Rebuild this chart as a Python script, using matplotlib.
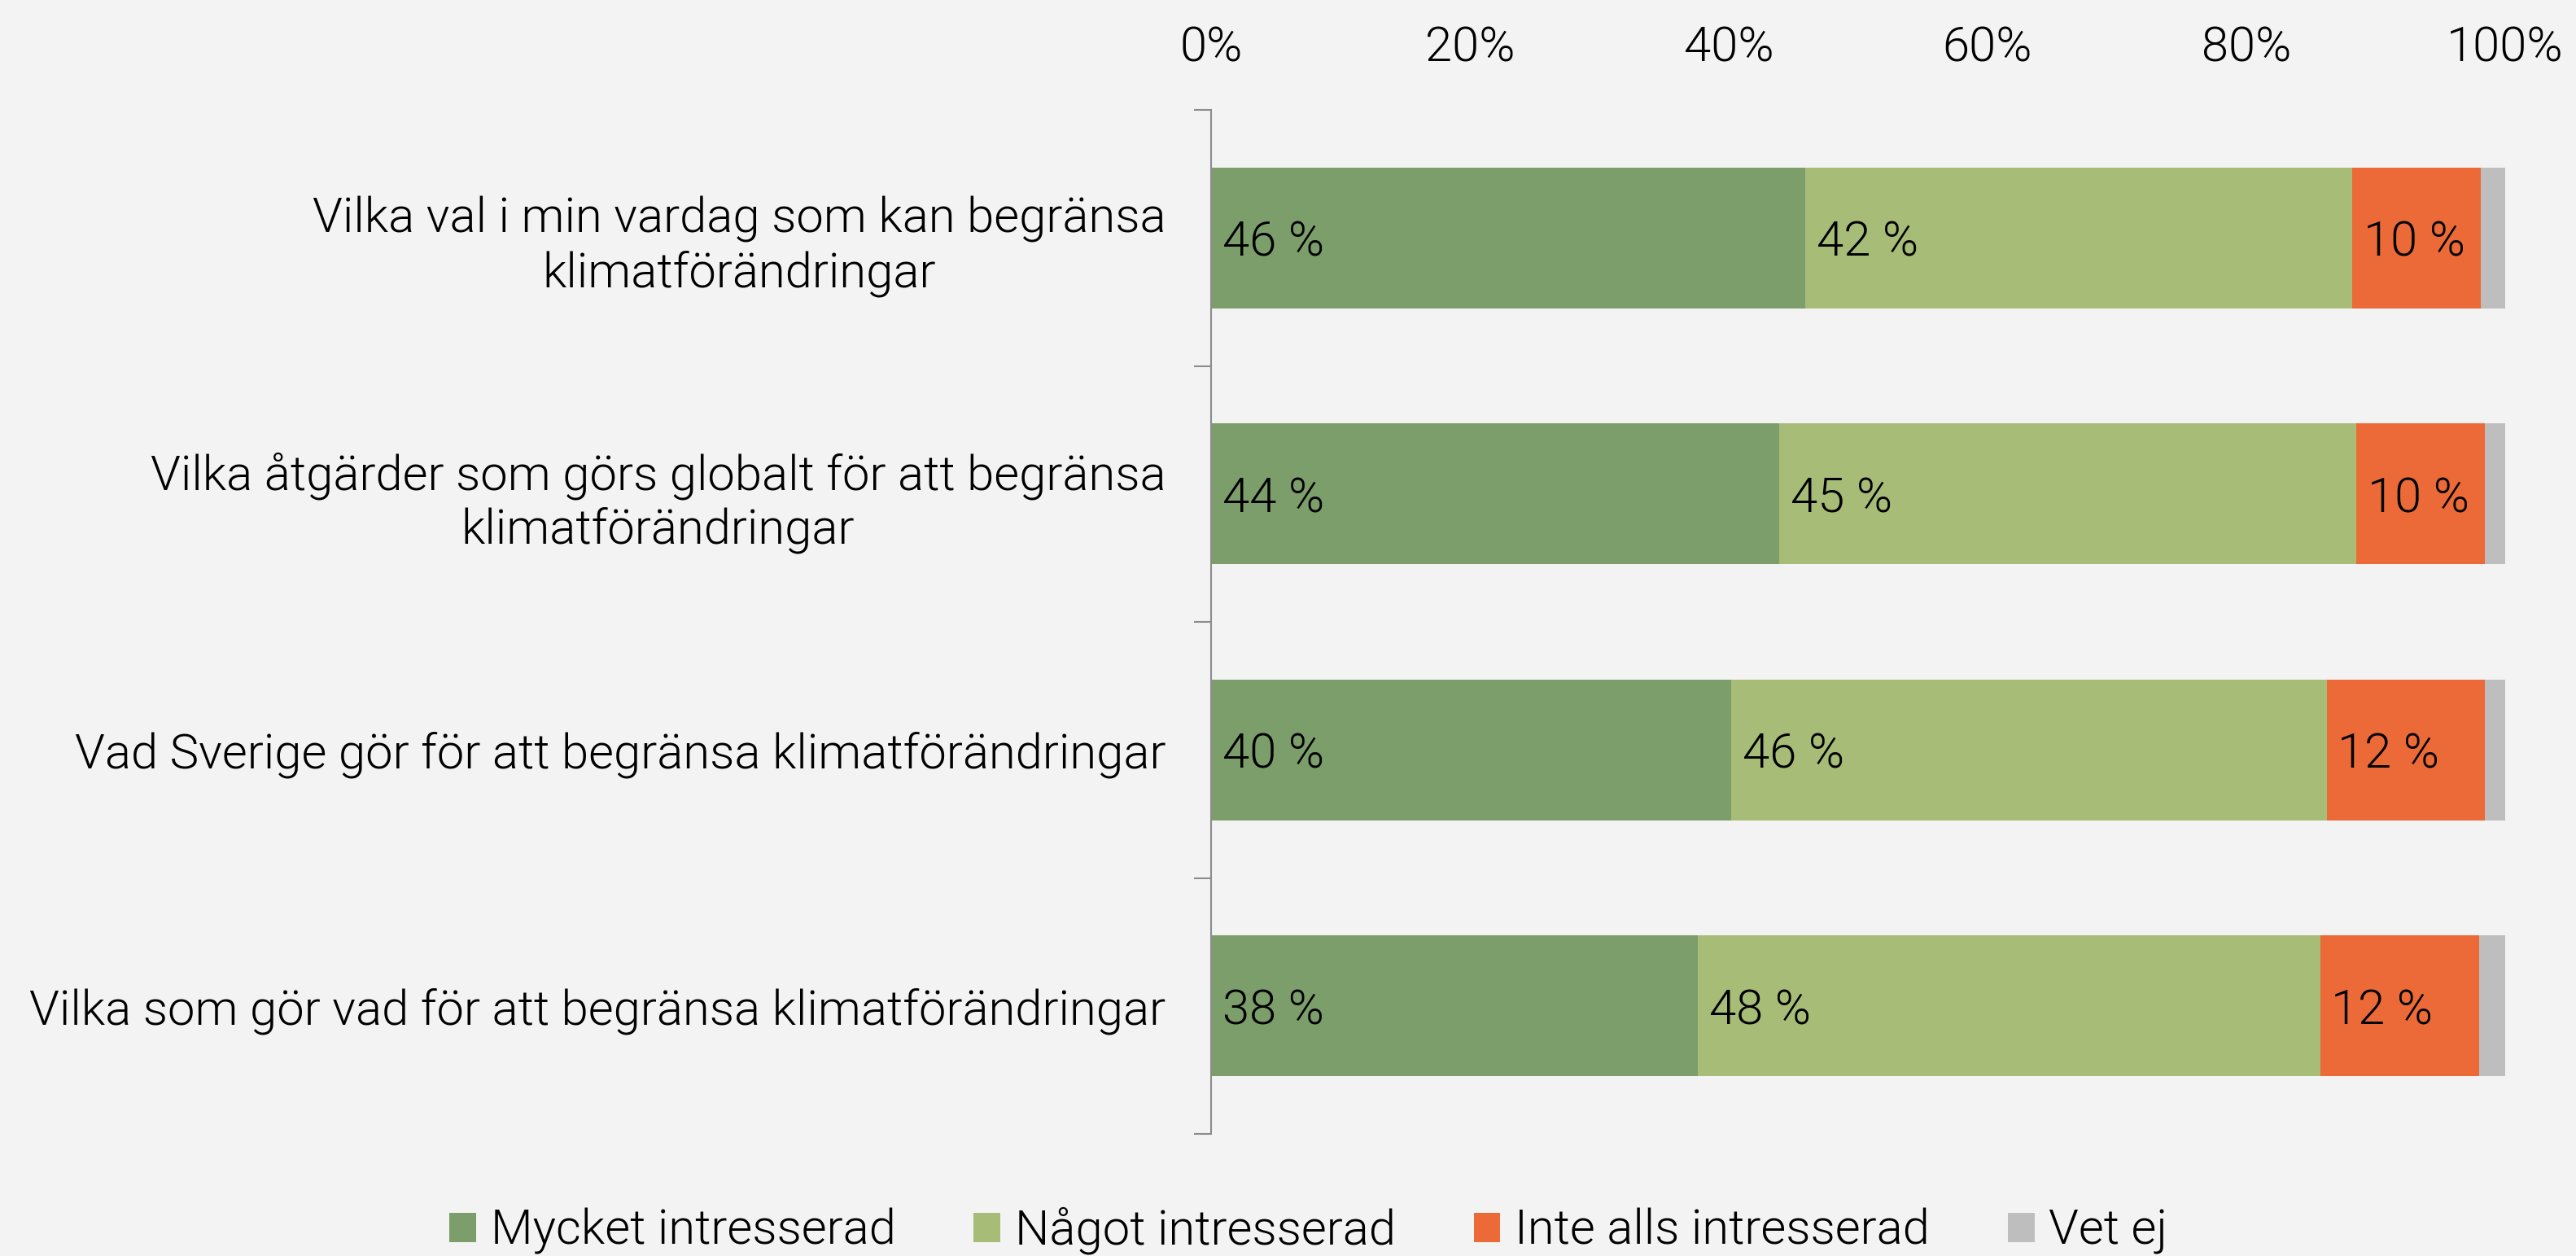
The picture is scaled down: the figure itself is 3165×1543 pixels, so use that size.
import matplotlib
matplotlib.use("Agg")
import matplotlib.pyplot as plt
from matplotlib.patches import Patch
import numpy as np

# survey categories (top to bottom)
categories = [
    "Vilka val i min vardag som kan begränsa\nklimatförändringar",
    "Vilka åtgärder som görs globalt för att begränsa\nklimatförändringar",
    "Vad Sverige gör för att begränsa klimatförändringar",
    "Vilka som gör vad för att begränsa klimatförändringar",
]
series_names = ["Mycket intresserad", "Något intresserad", "Inte alls intresserad", "Vet ej"]
mycket = [45.9, 43.9, 40.2, 37.6]
nagot = [42.3, 44.6, 46.0, 48.1]
inte = [9.9, 9.9, 12.2, 12.3]
vet_ej = [1.9, 1.6, 1.6, 2.0]
show_label = [True, True, True, False]

colors = ["#7c9e6a", "#a6bc77", "#ec6a37", "#bebebe"]
bg = "#f3f3f3"

plt.rcParams['font.family'] = ['Roboto', 'DejaVu Sans']
plt.rcParams['font.weight'] = 300
FS = 43

fig = plt.figure(figsize=(31.65, 15.43), dpi=100, facecolor=bg)
ax = fig.add_axes([0.4701, 0.0972, 0.5024, 0.8153])
ax.set_facecolor(bg)

y = np.arange(len(categories))
left = np.zeros(len(categories))
for name, vals, col, lab in zip(series_names, [mycket, nagot, inte, vet_ej], colors, show_label):
    vals = np.array(vals)
    ax.barh(y, vals, left=left, height=0.55, color=col, label=name)
    if lab:
        for yi, l, v in zip(y, left, vals):
            ax.annotate(f"{v:.0f} %", xy=(l, yi), xytext=(10, 0), textcoords="offset points",
                        va="center_baseline", ha="left", fontsize=FS, color="black")
    left += vals

ax.set_xlim(0, 100)
ax.set_ylim(len(categories) - 0.5, -0.5)
ax.xaxis.tick_top()
ax.set_xticks(np.arange(0, 101, 20))
ax.set_xticklabels([f"{t}%" for t in range(0, 101, 20)])
ax.tick_params(axis='x', length=0, labelsize=FS, pad=34, labelcolor="black")

ax.set_yticks(y)
ax.set_yticklabels(categories, fontsize=FS, multialignment='center', color="black")
ax.tick_params(axis='y', which='major', length=0, pad=40)
ax.set_yticks(np.arange(-0.5, len(categories)), minor=True)
ax.tick_params(axis='y', which='minor', length=15, width=1.5, color="#8c8c8c")

for s in ["top", "right", "bottom"]:
    ax.spines[s].set_visible(False)
ax.spines["left"].set_color("#8c8c8c")
ax.spines["left"].set_linewidth(1.5)

handles = [Patch(facecolor=c, edgecolor='none') for c in colors]
fig.legend(handles, series_names, loc="center", bbox_to_anchor=(0.508, 0.02), ncol=4,
           frameon=False, fontsize=FS, handlelength=0.55, handleheight=0.55,
           handletextpad=0.3, columnspacing=1.6)

fig.savefig("out.png", dpi=100, facecolor=bg)
